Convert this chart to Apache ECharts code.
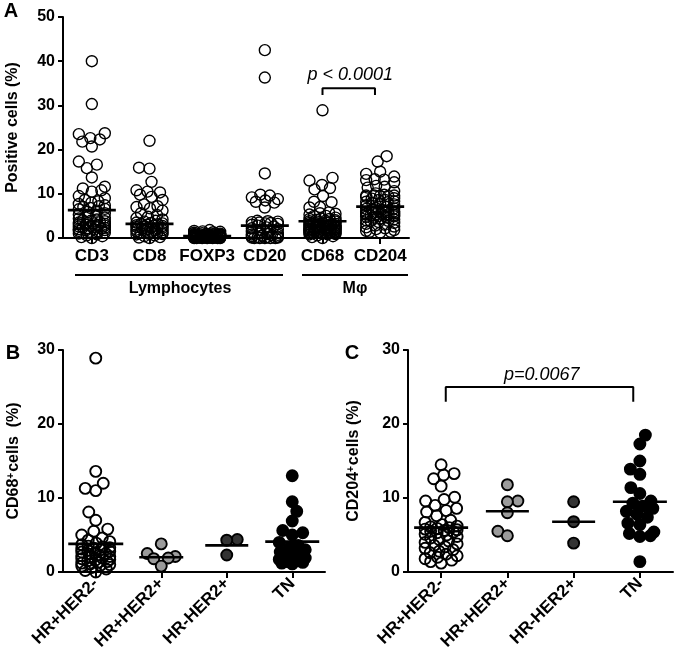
<!DOCTYPE html>
<html><head><meta charset="utf-8">
<script src="https://cdn.jsdelivr.net/npm/echarts/dist/echarts.min.js"></script>
<style>html,body{margin:0;padding:0;background:#fff}#c{width:677px;height:659px}</style>
</head><body><div id="c"></div>
<script>
// ---------------- DATA ----------------
const aCategories = ['CD3', 'CD8', 'FOXP3', 'CD20', 'CD68', 'CD204'];
const aCD3 = [40.0, 30.3, 23.7, 23.5, 22.6, 22.3, 21.8, 20.7, 17.3, 16.6, 15.8, 13.7, 11.6, 11.2, 10.8, 10.5, 9.5, 9.0, 8.6, 8.3, 8.0, 7.7, 7.4, 7.2, 7.0, 6.8, 6.6, 6.5, 6.2, 5.9, 5.6, 5.3, 5.0, 4.8, 4.6, 4.4, 4.2, 4.0, 3.9, 3.8, 3.6, 3.5, 3.4, 3.3, 3.2, 3.1, 3.0, 2.9, 2.8, 2.7, 2.6, 2.5, 2.4, 2.3, 2.2, 2.1, 2.0, 1.9, 1.8, 1.7, 1.6, 1.5, 1.4, 1.2, 1.0, 0.8, 0.6, 0.4, 0.2, 0.0];
const aCD8 = [22.0, 15.9, 15.7, 12.7, 10.8, 10.5, 10.3, 9.8, 9.3, 8.6, 7.6, 7.2, 7.0, 6.7, 6.2, 5.6, 5.2, 4.8, 4.5, 4.2, 3.9, 3.7, 3.5, 3.4, 3.3, 3.2, 3.1, 3.0, 2.9, 2.8, 2.7, 2.6, 2.5, 2.4, 2.3, 2.2, 2.1, 2.0, 1.9, 1.8, 1.7, 1.6, 1.5, 1.4, 1.3, 1.2, 1.1, 1.0, 0.9, 0.8, 0.6, 0.4, 0.2, 0.1, 0.0];
const aFOXP3 = [1.8, 1.6, 1.5, 1.4, 1.3, 1.2, 1.1, 1.0, 1.0, 0.9, 0.9, 0.8, 0.8, 0.8, 0.7, 0.7, 0.7, 0.6, 0.6, 0.6, 0.6, 0.5, 0.5, 0.5, 0.5, 0.5, 0.4, 0.4, 0.4, 0.4, 0.4, 0.4, 0.3, 0.3, 0.3, 0.3, 0.3, 0.3, 0.3, 0.2, 0.2, 0.2, 0.2, 0.2, 0.2, 0.2, 0.2, 0.1, 0.1, 0.1, 0.1, 0.1, 0.1, 0.1, 0.1, 0.0, 0.0, 0.0, 0.0, 0.0, 0.0, 0.0];
const aCD20 = [42.5, 36.3, 14.6, 9.8, 9.6, 9.2, 8.8, 8.5, 8.2, 8.0, 6.9, 3.9, 3.8, 3.7, 3.6, 3.5, 3.4, 3.3, 3.2, 3.0, 2.8, 2.6, 2.4, 2.2, 2.0, 1.8, 1.6, 1.4, 1.2, 1.0, 0.9, 0.8, 0.7, 0.6, 0.5, 0.4, 0.3, 0.2, 0.2, 0.1, 0.1, 0.0, 0.0, 0.0, 0.0, 0.0];
const aMedians = [6.3, 3.2, 0.45, 2.8, 3.8, 7.1];
const aYTicks = [0, 10, 20, 30, 40, 50];

const subtypeCategories = ['HR+HER2-', 'HR+HER2+', 'HR-HER2+', 'TN'];
// Panel B: CD68+ cells (%)
const bHRposHER2neg = [28.9, 13.6, 12.0, 11.3, 11.0, 8.1, 7.0, 5.8, 5.5, 5.0, 4.6, 4.3, 4.1, 3.9, 3.7, 3.5, 3.4, 3.3, 3.2, 3.1, 3.0, 2.9, 2.8, 2.7, 2.6, 2.5, 2.4, 2.3, 2.2, 2.1, 2.0, 1.9, 1.8, 1.7, 1.6, 1.5, 1.4, 1.3, 1.2, 1.1, 1.0, 0.9, 0.8, 0.6, 0.4, 0.2, 0.0];
const bHRposHER2pos = [3.8, 2.5, 2.1, 1.9, 1.8, 0.8];
const bHRnegHER2pos = [4.4, 4.3, 2.3];
const bTN = [13.0, 9.5, 8.2, 6.9, 5.6, 5.3, 5.0, 4.0, 3.6, 3.3, 3.0, 2.7, 2.4, 2.1, 1.9, 1.7, 1.5, 1.4, 1.3, 1.2, 1.1];
const bMedians = [3.8, 2.0, 3.6, 4.1];
// Panel C: CD204+ cells (%)
const cHRposHER2neg = [14.5, 13.3, 13.1, 12.6, 11.6, 10.1, 9.8, 9.6, 9.0, 8.6, 8.3, 8.1, 7.6, 7.0, 6.7, 6.4, 6.2, 6.1, 6.0, 5.9, 5.8, 5.7, 5.6, 5.5, 5.4, 5.3, 5.1, 5.0, 4.8, 4.6, 4.4, 4.2, 4.0, 3.8, 3.6, 3.4, 3.2, 3.0, 2.8, 2.6, 2.4, 2.2, 2.0, 1.8, 1.6, 1.4, 1.2];
const cHRposHER2pos = [11.8, 9.6, 9.5, 8.0, 5.5, 4.9];
const cHRnegHER2pos = [9.5, 6.8, 3.9];
const cTN = [18.5, 17.3, 15.0, 13.9, 13.2, 11.4, 10.6, 9.6, 9.3, 8.9, 8.6, 8.2, 7.8, 7.4, 6.6, 6.4, 5.4, 5.2, 4.9, 4.8, 1.4];
const cMedians = [6.0, 8.2, 6.8, 9.5];
const bcYTicks = [0, 10, 20, 30];

// Panel A macrophage columns are the pooled subtype data
const aCD68 = [].concat(bHRposHER2neg, bHRposHER2pos, bHRnegHER2pos, bTN);
const aCD204 = [].concat(cHRposHER2neg, cHRposHER2pos, cHRnegHER2pos, cTN);

// ---------------- LAYOUT / STYLE ----------------
const FONT = '"Liberation Sans", Arial, Helvetica, sans-serif';
const gridA = {left: 63, top: 17, width: 346, height: 221};
const gridB = {left: 63, top: 350, width: 262, height: 222};
const gridC = {left: 408, top: 350, width: 265, height: 222};
const SYM = 11;

function swarm(vals, pxPerUnit, dia, maxHalf) {
  const order = vals.map((v, i) => i).sort((a, b) => vals[a] - vals[b] || a - b);
  const placed = [];
  const off = new Array(vals.length).fill(0);
  order.forEach((i, k) => {
    const y = vals[i] * pxPerUnit;
    const pref = k % 2 === 0 ? 1 : -1;
    let bestX = 0, bestS = Infinity;
    for (let x = -maxHalf; x <= maxHalf + 1e-9; x += 0.5) {
      let pen = 0;
      for (const p of placed) {
        const dy = p.y - y;
        if (Math.abs(dy) >= dia) continue;
        const dx = p.x - x;
        const dist = Math.sqrt(dx * dx + dy * dy);
        if (dist < dia) pen += (dia - dist) * (dia - dist);
      }
      const s = pen * 100 + Math.abs(x) + (Math.sign(x) === pref ? 0 : 0.001);
      if (s < bestS) { bestS = s; bestX = x; }
    }
    placed.push({x: bestX, y: y});
    off[i] = bestX;
  });
  return off;
}

const series = [];
function addGroups(groups, grid, ticks, xValIdx, yIdx, fills, borderW, maxHalfs, medians, medWidths) {
  const pxX = grid.width / groups.length;
  const pxY = grid.height / (ticks[ticks.length - 1] - ticks[0]);
  groups.forEach((vals, gi) => {
    const off = swarm(vals, pxY, 10.5, maxHalfs[gi]);
    series.push({
      type: 'scatter', xAxisIndex: xValIdx, yAxisIndex: yIdx, silent: true, z: 3,
      symbol: 'circle', symbolSize: SYM,
      itemStyle: {color: fills[gi], borderColor: '#000', borderWidth: borderW, opacity: 1},
      data: vals.map((v, j) => [gi + off[j] / pxX, v])
    });
  });
  series.push({
    type: 'scatter', xAxisIndex: xValIdx, yAxisIndex: yIdx, silent: true, z: 5,
    symbol: 'rect',
    symbolSize: (val, params) => [medWidths[params.dataIndex], 2.6],
    itemStyle: {color: '#000', opacity: 1},
    data: medians.map((m, i) => [i, m])
  });
}

const HOLLOW = 'rgba(255,255,255,0)';
addGroups([aCD3, aCD8, aFOXP3, aCD20, aCD68, aCD204], gridA, aYTicks, 1, 0,
  [HOLLOW, HOLLOW, HOLLOW, HOLLOW, HOLLOW, HOLLOW], 1.4, [13, 13, 13, 13, 13, 14],
  aMedians, [48, 48, 48, 48, 48, 48]);
addGroups([bHRposHER2neg, bHRposHER2pos, bHRnegHER2pos, bTN], gridB, bcYTicks, 3, 1,
  [HOLLOW, '#9b9b9b', '#333333', '#000000'], 1.9, [14, 14, 14, 13],
  bMedians, [55, 44, 43, 54]);
addGroups([cHRposHER2neg, cHRposHER2pos, cHRnegHER2pos, cTN], gridC, bcYTicks, 5, 2,
  [HOLLOW, '#9b9b9b', '#333333', '#000000'], 1.9, [16, 14, 14, 14],
  cMedians, [54, 43, 43, 54]);

// significance brackets (data coordinates)
const bracketA = {x1: 4, x2: 4.91, yTop: 33.9, yLeg: 32.35, text: 'p < 0.0001', tx: 4.48, ty: 36.9};
const bracketC = {x1: 0.07, x2: 2.9, yTop: 25.0, yLeg: 23.0, text: 'p=0.0067', tx: 1.52, ty: 26.6};
function addBracket(b, xValIdx, yIdx) {
  series.push({
    type: 'line', xAxisIndex: xValIdx, yAxisIndex: yIdx, silent: true, symbol: 'none', z: 4,
    lineStyle: {color: '#000', width: 2},
    data: [[b.x1, b.yLeg], [b.x1, b.yTop], [b.x2, b.yTop], [b.x2, b.yLeg]]
  });
  series.push({
    type: 'scatter', xAxisIndex: xValIdx, yAxisIndex: yIdx, silent: true, symbolSize: 1,
    itemStyle: {color: 'rgba(0,0,0,0)', opacity: 1},
    label: {show: true, position: 'inside', formatter: b.text, fontStyle: 'italic', fontSize: 18,
            fontFamily: FONT, color: '#000', opacity: 1},
    data: [[b.tx, b.ty]]
  });
}
addBracket(bracketA, 1, 0);
addBracket(bracketC, 5, 2);

const axisLineStyle = {color: '#000', width: 2};
function catAxis(g, cats, rotate) {
  return {
    type: 'category', gridIndex: g, data: cats, boundaryGap: true,
    axisLine: {show: true, onZero: false, lineStyle: axisLineStyle},
    axisTick: {show: true, alignWithLabel: true, length: 6, lineStyle: axisLineStyle},
    axisLabel: {color: '#000', fontSize: 17, fontWeight: 'bold', fontFamily: FONT,
                margin: rotate ? 9 : 10, interval: 0, rotate: rotate},
    splitLine: {show: false}
  };
}
function valXAxis(g, n) {
  return {type: 'value', gridIndex: g, min: -0.5, max: n - 0.5, show: false,
          axisLine: {onZero: false}, splitLine: {show: false}};
}
function yAx(g, ticks, name, gap, rich) {
  const ax = {
    type: 'value', gridIndex: g, min: ticks[0], max: ticks[ticks.length - 1], interval: ticks[1] - ticks[0],
    axisLine: {show: true, onZero: false, lineStyle: axisLineStyle},
    axisTick: {show: true, length: 5, lineStyle: axisLineStyle},
    axisLabel: {color: '#000', fontSize: 16, fontWeight: 'bold', fontFamily: FONT, margin: 8},
    splitLine: {show: false},
    name: name, nameLocation: 'middle', nameGap: gap, nameRotate: 90,
    nameTextStyle: {color: '#000', fontSize: 16, fontWeight: 'bold', fontFamily: FONT}
  };
  if (rich) ax.nameTextStyle.rich = {
    t: {fontSize: 16, fontWeight: 'bold', fontFamily: FONT, color: '#000'},
    s: {fontSize: 10, fontWeight: 'bold', fontFamily: FONT, color: '#000', verticalAlign: 'top', padding: [0, 1, 0, 0]}
  };
  return ax;
}

const option = {
  animation: false,
  backgroundColor: '#fff',
  grid: [gridA, gridB, gridC].map(g => Object.assign({outerBoundsMode: 'none', containLabel: false}, g)),
  xAxis: [
    catAxis(0, aCategories, 0), valXAxis(0, aCategories.length),
    catAxis(1, subtypeCategories, 45), valXAxis(1, subtypeCategories.length),
    catAxis(2, subtypeCategories, 45), valXAxis(2, subtypeCategories.length)
  ],
  yAxis: [
    yAx(0, aYTicks, 'Positive cells (%)', 42, false),
    yAx(1, bcYTicks, '{t|CD68}{s|+}{t|cells  (%)}', 41, true),
    yAx(2, bcYTicks, '{t|CD204}{s|+}{t|cells (%)}', 46, true)
  ],
  series: series,
  graphic: [
    {type: 'text', x: 11, y: 11, style: {text: 'A', fill: '#000', fontSize: 20, fontWeight: 'bold', fontFamily: FONT, align: 'center', verticalAlign: 'middle'}},
    {type: 'text', x: 13, y: 353, style: {text: 'B', fill: '#000', fontSize: 20, fontWeight: 'bold', fontFamily: FONT, align: 'center', verticalAlign: 'middle'}},
    {type: 'text', x: 352, y: 353, style: {text: 'C', fill: '#000', fontSize: 20, fontWeight: 'bold', fontFamily: FONT, align: 'center', verticalAlign: 'middle'}},
    {type: 'line', shape: {x1: 75, y1: 275, x2: 283, y2: 275}, style: {stroke: '#000', lineWidth: 2}},
    {type: 'line', shape: {x1: 302, y1: 275, x2: 408, y2: 275}, style: {stroke: '#000', lineWidth: 2}},
    {type: 'text', x: 180, y: 289, style: {text: 'Lymphocytes', fill: '#000', fontSize: 16, fontWeight: 'bold', fontFamily: FONT, align: 'center', verticalAlign: 'middle'}},
    {type: 'text', x: 355, y: 289, style: {text: 'M\u03C6', fill: '#000', fontSize: 16, fontWeight: 'bold', fontFamily: FONT, align: 'center', verticalAlign: 'middle'}}
  ]
};

const chart = echarts.init(document.getElementById('c'), null, {renderer: 'canvas'});
chart.setOption(option);
</script></body></html>
